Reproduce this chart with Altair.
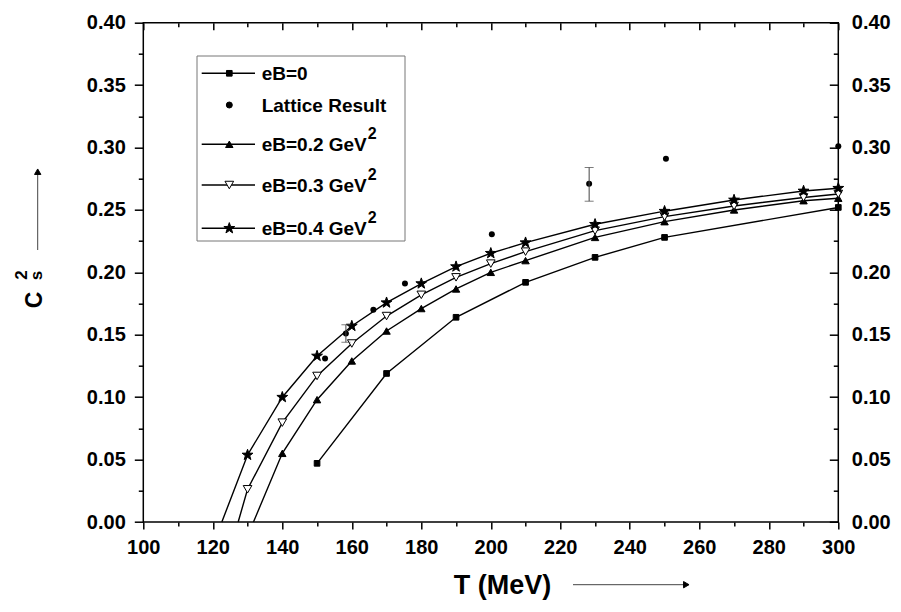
import altair as alt
import pandas as pd

# ---------------- data ----------------
T_eB0 = [150, 170, 190, 210, 230, 250, 300]
C_eB0 = [0.047, 0.119, 0.164, 0.192, 0.212, 0.228, 0.252]

T_eB02 = [131.7, 140, 150, 160, 170, 180, 190, 200, 210, 230, 250, 270, 290, 300]
C_eB02 = [0.0, 0.055, 0.098, 0.129, 0.153, 0.171, 0.1867, 0.200, 0.2094, 0.228, 0.2406, 0.250, 0.2574, 0.2594]

T_eB03 = [127.3, 130, 140, 150, 160, 170, 180, 190, 200, 210, 230, 250, 270, 290, 300]
C_eB03 = [0.0, 0.0262, 0.0796, 0.117, 0.143, 0.165, 0.182, 0.196, 0.207, 0.2166, 0.2334, 0.2446, 0.2532, 0.260, 0.2628]

T_eB04 = [122.6, 130, 140, 150, 160, 170, 180, 190, 200, 210, 230, 250, 270, 290, 300]
C_eB04 = [0.0, 0.0537, 0.100, 0.133, 0.157, 0.1757, 0.191, 0.2046, 0.2153, 0.2238, 0.2385, 0.249, 0.258, 0.2652, 0.2674]

T_lat = [152.3, 158.3, 166.2, 175.3, 200.3, 228.3, 250.4, 300]
C_lat = [0.131, 0.151, 0.170, 0.191, 0.2305, 0.271, 0.291, 0.301]

T_err = [158.3, 228.3]
C_err_lo = [0.144, 0.257]
C_err_hi = [0.158, 0.284]

X_MAJOR = [100, 120, 140, 160, 180, 200, 220, 240, 260, 280, 300]
X_MINOR = [110, 130, 150, 170, 190, 210, 230, 250, 270, 290]
Y_MAJOR = [0.0, 0.05, 0.10, 0.15, 0.20, 0.25, 0.30, 0.35, 0.40]
Y_MINOR = [0.025, 0.075, 0.125, 0.175, 0.225, 0.275, 0.325, 0.375]

LEGEND_LABELS = ["eB=0", "Lattice Result", "eB=0.2 GeV", "eB=0.3 GeV", "eB=0.4 GeV"]

# ---------------- tables ----------------
rows = []
for name, Ts, Cs in [("eB0", T_eB0, C_eB0), ("eB02", T_eB02, C_eB02),
                     ("eB03", T_eB03, C_eB03), ("eB04", T_eB04, C_eB04)]:
    for t, c in zip(Ts, Cs):
        rows.append({"T": t, "C": c, "series": name, "marker": c > 0})
curves = pd.DataFrame(rows)
lattice = pd.DataFrame({"T": T_lat, "C": C_lat})
errs = pd.DataFrame({"T": T_err, "lo": C_err_lo, "hi": C_err_hi})
one = pd.DataFrame({"k": [0]})

FONT = "Liberation Sans"
STAR = ("M0,-1L0.235,-0.324L0.951,-0.309L0.380,0.124L0.588,0.809L0,0.4"
        "L-0.588,0.809L-0.380,0.124L-0.951,-0.309L-0.235,-0.324Z")

xs = alt.Scale(domain=[100, 300], nice=False, zero=False)
ys = alt.Scale(domain=[0, 0.4], nice=False, zero=False)

common = dict(grid=False, domain=False, title=None, tickColor="black", tickWidth=1.5)
ax_bottom = alt.Axis(orient="bottom", values=X_MAJOR, tickSize=7, labelPadding=8,
                     labelFlush=False, labelOverlap=False, format="d", **common)
ax_bottom_min = alt.Axis(orient="bottom", values=X_MINOR, tickSize=4, labels=False, **common)
ax_top = alt.Axis(orient="top", values=X_MAJOR, tickSize=7, offset=-7, labels=False, **common)
ax_top_min = alt.Axis(orient="top", values=X_MINOR, tickSize=4, offset=-4, labels=False, **common)
ax_left = alt.Axis(orient="left", values=Y_MAJOR, tickSize=9, labelPadding=9,
                   labelFlush=False, labelOverlap=False, format=".2f", **common)
ax_left_min = alt.Axis(orient="left", values=Y_MINOR, tickSize=5, labels=False, **common)
ax_right = alt.Axis(orient="right", values=Y_MAJOR, tickSize=9, offset=-9, labels=False, **common)
ax_right_min = alt.Axis(orient="right", values=Y_MINOR, tickSize=5, offset=-5, labels=False, **common)
ax_right_lab = alt.Axis(orient="right", values=Y_MAJOR, ticks=False, tickSize=0, labelPadding=13,
                        labelFlush=False, labelOverlap=False, format=".2f", **common)


def X(axis, field="T"):
    return alt.X(f"{field}:Q", scale=xs, axis=axis)


def Y(axis, field="C"):
    return alt.Y(f"{field}:Q", scale=ys, axis=axis)


lines = alt.Chart(curves).mark_line(color="black", strokeWidth=1.4).encode(
    x=X(ax_bottom), y=Y(ax_left), detail="series:N", order="T:Q")


def pts(series, shape, size, filled=True, axx=None, axy=None):
    return alt.Chart(curves).transform_filter(
        (alt.datum.series == series) & alt.datum.marker
    ).mark_point(shape=shape, size=size, filled=True,
                 fill="black" if filled else "white", stroke="black",
                 strokeWidth=1, opacity=1).encode(x=X(axx), y=Y(axy))


p0 = pts("eB0", "square", 32, axx=ax_bottom_min, axy=ax_left_min)
p2 = pts("eB02", "triangle-up", 55, axx=ax_top, axy=ax_right)
p3 = pts("eB03", "triangle-down", 75, filled=False, axx=ax_top_min, axy=ax_right_min)
p4 = pts("eB04", STAR, 130, axx=None, axy=ax_right_lab)

lat = alt.Chart(lattice).mark_circle(size=36, color="black", opacity=1).encode(
    x=X(None), y=Y(None))
err_rule = alt.Chart(errs).mark_rule(color="#444", strokeWidth=1).encode(
    x=X(None), y=Y(None, "lo"), y2="hi:Q")
cap_lo = alt.Chart(errs).mark_tick(orient="horizontal", size=9, thickness=1, color="#444").encode(
    x=X(None), y=Y(None, "lo"))
cap_hi = alt.Chart(errs).mark_tick(orient="horizontal", size=9, thickness=1, color="#444").encode(
    x=X(None), y=Y(None, "hi"))


def txt(s, x, y, size, align="left", baseline="middle", angle=0):
    return alt.Chart(one).mark_text(text=s, align=align, baseline=baseline, fontSize=size,
                                    font=FONT, fontWeight="bold", angle=angle,
                                    color="black").encode(x=alt.value(x), y=alt.value(y))


def hrule(x1, x2, y, color="black", w=1.4):
    return alt.Chart(one).mark_rule(color=color, strokeWidth=w).encode(
        x=alt.value(x1), x2=alt.value(x2), y=alt.value(y))


def sym(shape, x, y, size, fill="black"):
    return alt.Chart(one).mark_point(shape=shape, size=size, filled=True, fill=fill,
                                     stroke="black", strokeWidth=1, opacity=1).encode(
        x=alt.value(x), y=alt.value(y))


# ---------------- legend ----------------
legend_layers = [
    alt.Chart(one).mark_rect(fill="white", fillOpacity=0, stroke="#777", strokeWidth=1).encode(
        x=alt.value(53.7), x2=alt.value(261.7), y=alt.value(33.3), y2=alt.value(218.3))
]
row_y = [50.6, 82.3, 121.6, 162.3, 205.6]
shapes = [("square", 32, "black"), ("circle", 36, "black"), ("triangle-up", 55, "black"),
          ("triangle-down", 75, "white"), (STAR, 130, "black")]
for i, (lab, yy, (shp, sz, fl)) in enumerate(zip(LEGEND_LABELS, row_y, shapes)):
    if i != 1:
        legend_layers.append(hrule(58.4, 111.7, yy))
    legend_layers.append(sym(shp, 86, yy, sz, fl))
    legend_layers.append(txt(lab, 118.4, yy + 1, 19))
    if i >= 2:
        legend_layers.append(txt("2", 224.5, yy - 10, 16))

# ---------------- axis titles ----------------
title_layers = [
    txt("C", -108.8, 277.3, 23, align="center", angle=270),
    txt("s", -106.3, 252.8, 17, align="center", angle=270),
    txt("2", -121.8, 252.3, 17, align="center", angle=270),
    alt.Chart(one).mark_rule(color="#444", strokeWidth=1).encode(
        x=alt.value(-105.6), y=alt.value(150), y2=alt.value(227.3)),
    sym("triangle-up", -105.6, 149, 40, "black"),
    txt("T (MeV)", 359.2, 571.5, 27, align="center", baseline="alphabetic"),
    hrule(429.7, 543, 562, color="#444", w=1),
    sym("triangle-right", 543, 562, 40, "black"),
]

chart = alt.layer(
    lines, p0, p2, p3, p4, lat, err_rule, cap_lo, cap_hi, *legend_layers, *title_layers
).resolve_axis(
    x="independent", y="independent"
).properties(
    width=695, height=499.3,
    autosize=alt.AutoSizeParams(type="none"),
    padding={"left": 135.3, "top": 14.7, "right": 54.7, "bottom": 80},
    background="white",
).configure_view(
    stroke="black", strokeWidth=1.5
).configure_axis(
    labelFont=FONT, labelFontSize=20, labelFontWeight="bold", labelColor="black"
)

chart.save("out.html", embed_options={"renderer": "svg", "actions": False})
